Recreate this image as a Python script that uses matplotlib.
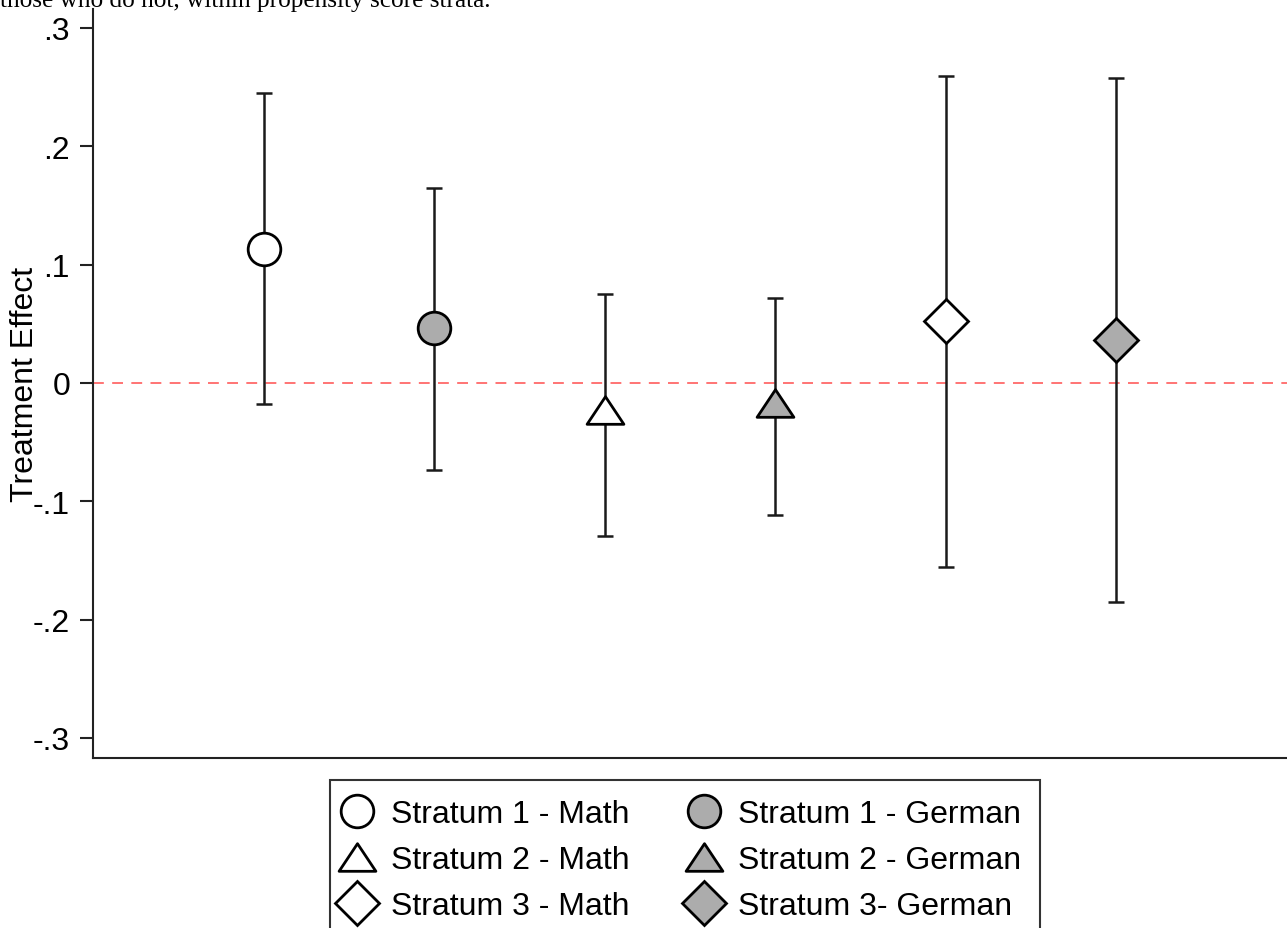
import matplotlib.pyplot as plt
from matplotlib.path import Path

# Treatment effect estimates with 95% confidence bounds, by stratum and subject
labels = [
    "Stratum 1 - Math", "Stratum 1 - German",
    "Stratum 2 - Math", "Stratum 2 - German",
    "Stratum 3 - Math", "Stratum 3- German",
]
positions = [1, 2, 3, 4, 5, 6]
effects = [0.113, 0.046, -0.023, -0.017, 0.052, 0.036]
ci_low = [-0.018, -0.074, -0.129, -0.112, -0.156, -0.185]
ci_high = [0.245, 0.165, 0.075, 0.072, 0.259, 0.258]

y_ticks = [-0.3, -0.2, -0.1, 0.0, 0.1, 0.2, 0.3]
y_ticklabels = ["-.3", "-.2", "-.1", "0", ".1", ".2", ".3"]

GRAY = "#acacac"
# wide, flat triangle marker
tri = Path([(0, 0.75), (-1, -0.75), (1, -0.75), (0, 0.75)],
           [Path.MOVETO, Path.LINETO, Path.LINETO, Path.CLOSEPOLY])
styles = [
    dict(marker="o", markersize=23.5, markerfacecolor="white"),
    dict(marker="o", markersize=23.5, markerfacecolor=GRAY),
    dict(marker=tri, markersize=26.5, markerfacecolor="white"),
    dict(marker=tri, markersize=26.5, markerfacecolor=GRAY),
    dict(marker="D", markersize=22.5, markerfacecolor="white"),
    dict(marker="D", markersize=22.5, markerfacecolor=GRAY),
]

plt.rcParams["font.family"] = ["Liberation Sans", "DejaVu Sans"]

fig = plt.figure(figsize=(12.87, 9.29), dpi=100)
ax = fig.add_axes([93 / 1287, 1 - 759 / 929, 1 - 93 / 1287, (759 - 10) / 929])

ax.axhline(0, color="#ff5c5c", lw=1.2, dashes=(6.5, 5.0), zorder=1)

for i in range(len(positions)):
    lo = effects[i] - ci_low[i]
    hi = ci_high[i] - effects[i]
    ax.errorbar(positions[i], effects[i], yerr=[[lo], [hi]], fmt="none",
                ecolor="#1a1a1a", elinewidth=1.8, capsize=5.8, capthick=1.8,
                zorder=2)

handles = []
for i in range(len(positions)):
    h, = ax.plot(positions[i], effects[i], linestyle="none",
                 markeredgecolor="black", markeredgewidth=2.0,
                 label=labels[i], zorder=3, **styles[i])
    handles.append(h)

ax.set_xlim(0, 7)
ax.set_ylim(-0.317, 0.316)
ax.set_xticks([])
ax.set_yticks(y_ticks)
ax.set_yticklabels(y_ticklabels)
ax.tick_params(axis="y", length=9.5, width=1.5, pad=7, labelsize=23,
               color="#222222", labelcolor="black")
for side in ("top", "right"):
    ax.spines[side].set_visible(False)
for side in ("left", "bottom"):
    ax.spines[side].set_linewidth(1.5)
    ax.spines[side].set_color("#222222")

fig.text(25 / 1287, 1 - 384 / 929, "Treatment Effect", rotation=90,
         ha="center", va="center", fontsize=23)

# caption line running off the top edge
fig.text(0.0, 1 - 7 / 929, "those who do not, within propensity score strata.",
         family=["Liberation Serif", "DejaVu Serif"], fontsize=18.2,
         ha="left", va="baseline")

order = [0, 2, 4, 1, 3, 5]
leg = fig.legend([handles[k] for k in order], [labels[k] for k in order],
                 ncol=2, loc="upper left",
                 bbox_to_anchor=(330 / 1287, 1 - 781 / 929),
                 bbox_transform=fig.transFigure, borderaxespad=0,
                 fontsize=23, frameon=True, fancybox=False,
                 edgecolor="black", borderpad=0.6, handlelength=0.5,
                 handletextpad=0.81, columnspacing=2.07, labelspacing=0.5)
leg.get_frame().set_linewidth(1.5)

fig.savefig("out.png", dpi=100)
